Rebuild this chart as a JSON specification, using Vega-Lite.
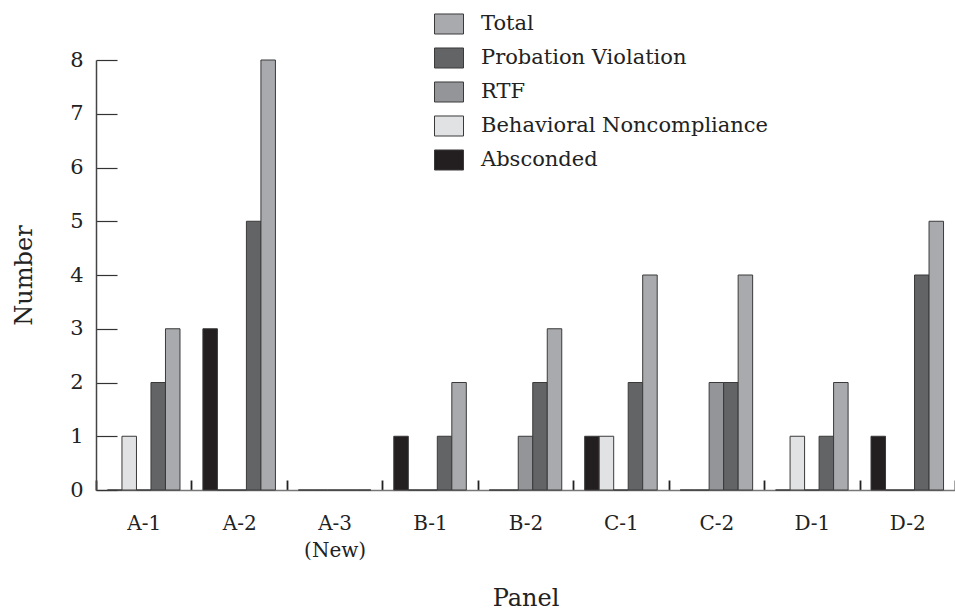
{
  "$schema": "https://vega.github.io/schema/vega-lite/v6.json",
  "autosize": "none",
  "padding": {"left": 96, "top": 60, "right": 0, "bottom": 125},
  "width": 859,
  "height": 430,
  "background": "white",
  "data": {"values": [
    {"panel": "A-1", "cat": "Absconded", "n": 0},
    {"panel": "A-1", "cat": "Behavioral Noncompliance", "n": 1},
    {"panel": "A-1", "cat": "RTF", "n": 0},
    {"panel": "A-1", "cat": "Probation Violation", "n": 2},
    {"panel": "A-1", "cat": "Total", "n": 3},
    {"panel": "A-2", "cat": "Absconded", "n": 3},
    {"panel": "A-2", "cat": "Behavioral Noncompliance", "n": 0},
    {"panel": "A-2", "cat": "RTF", "n": 0},
    {"panel": "A-2", "cat": "Probation Violation", "n": 5},
    {"panel": "A-2", "cat": "Total", "n": 8},
    {"panel": "A-3 (New)", "cat": "Absconded", "n": 0},
    {"panel": "A-3 (New)", "cat": "Behavioral Noncompliance", "n": 0},
    {"panel": "A-3 (New)", "cat": "RTF", "n": 0},
    {"panel": "A-3 (New)", "cat": "Probation Violation", "n": 0},
    {"panel": "A-3 (New)", "cat": "Total", "n": 0},
    {"panel": "B-1", "cat": "Absconded", "n": 1},
    {"panel": "B-1", "cat": "Behavioral Noncompliance", "n": 0},
    {"panel": "B-1", "cat": "RTF", "n": 0},
    {"panel": "B-1", "cat": "Probation Violation", "n": 1},
    {"panel": "B-1", "cat": "Total", "n": 2},
    {"panel": "B-2", "cat": "Absconded", "n": 0},
    {"panel": "B-2", "cat": "Behavioral Noncompliance", "n": 0},
    {"panel": "B-2", "cat": "RTF", "n": 1},
    {"panel": "B-2", "cat": "Probation Violation", "n": 2},
    {"panel": "B-2", "cat": "Total", "n": 3},
    {"panel": "C-1", "cat": "Absconded", "n": 1},
    {"panel": "C-1", "cat": "Behavioral Noncompliance", "n": 1},
    {"panel": "C-1", "cat": "RTF", "n": 0},
    {"panel": "C-1", "cat": "Probation Violation", "n": 2},
    {"panel": "C-1", "cat": "Total", "n": 4},
    {"panel": "C-2", "cat": "Absconded", "n": 0},
    {"panel": "C-2", "cat": "Behavioral Noncompliance", "n": 0},
    {"panel": "C-2", "cat": "RTF", "n": 2},
    {"panel": "C-2", "cat": "Probation Violation", "n": 2},
    {"panel": "C-2", "cat": "Total", "n": 4},
    {"panel": "D-1", "cat": "Absconded", "n": 0},
    {"panel": "D-1", "cat": "Behavioral Noncompliance", "n": 1},
    {"panel": "D-1", "cat": "RTF", "n": 0},
    {"panel": "D-1", "cat": "Probation Violation", "n": 1},
    {"panel": "D-1", "cat": "Total", "n": 2},
    {"panel": "D-2", "cat": "Absconded", "n": 1},
    {"panel": "D-2", "cat": "Behavioral Noncompliance", "n": 0},
    {"panel": "D-2", "cat": "RTF", "n": 0},
    {"panel": "D-2", "cat": "Probation Violation", "n": 4},
    {"panel": "D-2", "cat": "Total", "n": 5}
  ]},
  "mark": {"type": "bar", "stroke": "#3a3a3a", "strokeWidth": 1},
  "encoding": {
    "x": {
      "field": "panel", "type": "nominal", "sort": null,
      "scale": {"paddingInner": 0, "paddingOuter": 0},
      "axis": {
        "title": "Panel", "labelAngle": 0,
        "labelExpr": "split(datum.label, ' ')",
        "tickBand": "extent", "tickSize": -10, "tickColor": "#222", "tickWidth": 1.8,
        "labelPadding": 33, "labelFont": "DejaVu Serif", "labelFontSize": 20, "labelColor": "#222",
        "labelLineHeight": 27,
        "domainColor": "#777", "domainWidth": 1.5,
        "titleFont": "DejaVu Serif", "titleFontSize": 24, "titleFontWeight": "normal", "titleColor": "#222",
        "titlePadding": 26
      }
    },
    "xOffset": {
      "field": "cat", "type": "nominal",
      "sort": ["Absconded", "Behavioral Noncompliance", "RTF", "Probation Violation", "Total"],
      "scale": {"paddingInner": 0, "paddingOuter": 0.79}
    },
    "y": {
      "field": "n", "type": "quantitative",
      "scale": {"domain": [0, 8], "nice": false},
      "axis": {
        "title": "Number", "values": [0,1,2,3,4,5,6,7,8], "grid": false,
        "tickSize": -21, "tickColor": "#333", "tickWidth": 1.2,
        "labelPadding": 34, "labelFont": "DejaVu Serif", "labelFontSize": 21, "labelColor": "#222",
        "domainColor": "#444", "domainWidth": 1.5,
        "titleFont": "DejaVu Serif", "titleFontSize": 24, "titleFontWeight": "normal", "titleColor": "#222",
        "titlePadding": 33
      }
    },
    "color": {
      "field": "cat", "type": "nominal",
      "scale": {
        "domain": ["Total", "Probation Violation", "RTF", "Behavioral Noncompliance", "Absconded"],
        "range": ["#a9aaad", "#636466", "#939598", "#e1e2e3", "#231f20"]
      },
      "legend": {
        "title": null, "orient": "none", "legendX": 338, "legendY": -51,
        "padding": 0,
        "symbolType": "M-1,-0.69H1V0.69H-1Z", "symbolSize": 841,
        "symbolStrokeColor": "#3a3a3a", "symbolStrokeWidth": 1, "symbolOpacity": 1,
        "labelFont": "DejaVu Serif", "labelFontSize": 21, "labelColor": "#222",
        "labelOffset": 17, "rowPadding": 6, "labelLimit": 400
      }
    }
  },
  "config": {"view": {"stroke": null}}
}
